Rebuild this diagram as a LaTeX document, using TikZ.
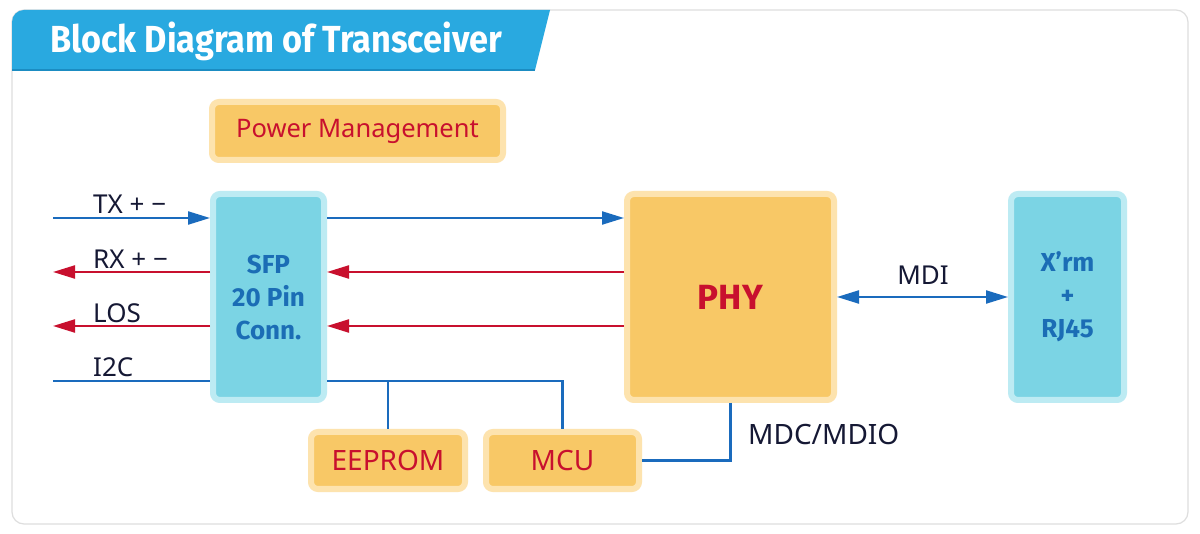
\documentclass[tikz,border=0pt]{standalone}
\usepackage{graphicx}
\usepackage{fontspec}
\setmainfont{Noto Sans}
\newfontfamily\titlefont{Fira Sans}
\usepackage{xcolor}
\usetikzlibrary{arrows.meta}

\definecolor{tabblue}{HTML}{29A9E0}
\definecolor{tabline}{HTML}{1B8CC2}
\definecolor{cardline}{HTML}{DEDEDE}
\definecolor{ambin}{HTML}{F8C866}
\definecolor{ambout}{HTML}{FDE3AE}
\definecolor{cyin}{HTML}{7BD4E4}
\definecolor{cyout}{HTML}{BDEBF3}
\definecolor{sigred}{HTML}{C8102E}
\definecolor{sigblue}{HTML}{1A6BBD}
\definecolor{boxblue}{HTML}{1B6DB5}
\definecolor{labink}{HTML}{151834}

\begin{document}
\begin{tikzpicture}[x=1pt,y=-1pt,
	ambox/.style={draw=ambout, fill=ambin, line width=6pt, rounded corners=7pt, inner sep=0pt, text=sigred},
	cybox/.style={draw=cyout, fill=cyin, line width=6pt, rounded corners=7pt, inner sep=0pt, text=boxblue, align=center, font=\titlefont\bfseries\fontsize{26}{33}\selectfont},
	lab/.style={text=labink, inner sep=0pt, font=\fontsize{26}{30}\selectfont},
	wire/.style={sigblue, line width=2.2pt},
	bluetip/.style={wire, -{Triangle[length=22pt,width=13pt]}},
	redtip/.style={sigred, line width=2.2pt, -{Triangle[length=22pt,width=13pt]}}]
				% card and title tab
				\fill[white] (0,0) rectangle (1200,534);
				\useasboundingbox (0,0) rectangle (1200,534);
				\draw[cardline, line width=1.2pt, fill=white, rounded corners=12pt] (12,10) rectangle (1188,524);
				\begin{scope}
					\clip[rounded corners=12pt] (12,10) rectangle (1188,524);
					\fill[tabblue] (12,10) -- (550,10) -- (535,70) -- (12,70) -- cycle;
					\draw[tabline, line width=1.5pt] (12,70) -- (535,70);
				\end{scope}
				\node[anchor=base west, inner sep=0pt, text=white, font=\titlefont\bfseries\fontsize{37.7}{40}\selectfont] (title) at (50,53) {\resizebox{452pt}{\height}{Block Diagram of Transceiver}};
				% blocks
				\node[ambox, minimum width=291pt, minimum height=58pt, font=\fontsize{25.5}{30}\selectfont] (pwr) at (357.5,131) {Power Management};
				\node[cybox, minimum width=111pt, minimum height=206pt] (sfp) at (268.5,297) {SFP\\20 Pin\\Conn.};
				\node[ambox, minimum width=207pt, minimum height=206pt, font=\titlefont\bfseries\fontsize{35}{40}\selectfont] (phy) at (730.5,297) {PHY};
				\node[cybox, minimum width=113pt, minimum height=206pt] (xrm) at (1067.5,297) {X’rm\\+\\RJ45};
				\node[ambox, minimum width=154pt, minimum height=57pt, font=\fontsize{28}{32}\selectfont] (eeprom) at (388,460.5) {EEPROM};
				\node[ambox, minimum width=153pt, minimum height=57pt, font=\fontsize{28}{32}\selectfont] (mcu) at (562.5,460.5) {MCU};
				% signal labels
				\node[lab, anchor=base west] (txl) at (93,214) {TX + −};
				\node[lab, anchor=base west] (rxl) at (93,269) {RX + −};
				\node[lab, anchor=base west] (losl) at (93,323) {LOS};
				\node[lab, anchor=base west] (iicl) at (93,377) {I2C};
				\node[lab, anchor=base] (mdil) at (923,285) {MDI};
				\node[lab, anchor=base west, font=\fontsize{28}{32}\selectfont] (mdcl) at (748,445) {MDC/MDIO};
				% connectors
				\coordinate (tx) at (53,218);
				\coordinate (rx) at (53,272);
				\coordinate (los) at (53,326);
				\coordinate (iic) at (53,381);
				\draw[bluetip] (tx) -- (tx -| sfp.west);
				\draw[redtip] (rx -| sfp.west) -- (rx);
				\draw[redtip] (los -| sfp.west) -- (los);
				\draw[wire] (iic) -- (iic -| sfp.west);
				\draw[bluetip] (tx -| sfp.east) -- (tx -| phy.west);
				\draw[redtip] (rx -| phy.west) -- (rx -| sfp.east);
				\draw[redtip] (los -| phy.west) -- (los -| sfp.east);
				\draw[wire] (iic -| sfp.east) -| (mcu.north);
				\draw[wire] (iic -| eeprom.north) -- (eeprom.north);
				\draw[wire] (phy.south) |- (mcu.east);
				\draw[wire, {Triangle[length=22pt,width=13pt]}-{Triangle[length=22pt,width=13pt]}] (phy.east) -- (xrm.west);
			\end{tikzpicture}
\end{document}
